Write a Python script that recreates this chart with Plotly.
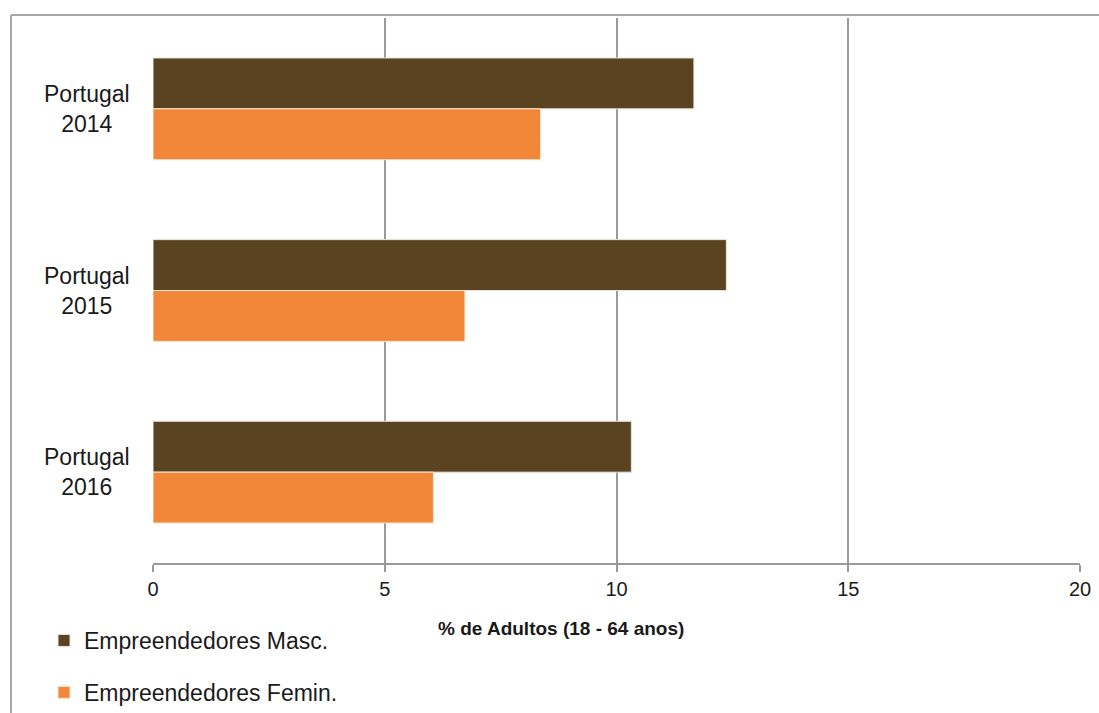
import plotly.graph_objects as go

categories = ["Portugal<br>2014", "Portugal<br>2015", "Portugal<br>2016"]
masc = [11.67, 12.37, 10.32]
femin = [8.36, 6.73, 6.05]
series_names = ["Empreendedores Masc.", "Empreendedores Femin."]
x_ticks = [0, 5, 10, 15, 20]
x_title = "% de Adultos (18 - 64 anos)"

W, H = 1099, 713
ml, mr, mt, mb = 153, 19, 18, 150
pw, ph = W - ml - mr, H - mt - mb

def px_x(x):
    return (x - ml) / pw

def px_y(y):
    return (H - mb - y) / ph

fig = go.Figure()
fig.add_trace(go.Bar(
    y=categories, x=masc, orientation="h", name=series_names[0],
    marker=dict(color="#5A4320", line=dict(color="#E8E2D8", width=1)),
    legendgroup="a",
))
fig.add_trace(go.Bar(
    y=categories, x=femin, orientation="h", name=series_names[1],
    marker=dict(color="#F2873A", line=dict(color="#FBE3D2", width=1)),
    legendgroup="b",
))

label_font = dict(family="Liberation Sans, Arial, sans-serif", size=23, color="#1a1a1a")
annotations = [dict(
    text="<b>" + x_title + "</b>", x=px_x(561), y=px_y(628),
    xref="paper", yref="paper", xanchor="center", yanchor="middle",
    showarrow=False,
    font=dict(family="Liberation Sans, Arial, sans-serif", size=19, color="#1a1a1a"),
)]
for c in categories:
    annotations.append(dict(
        text=c, x=px_x(87), y=c, xref="paper", yref="y",
        xanchor="center", yanchor="middle", align="center",
        showarrow=False, font=label_font,
    ))

fig.update_layout(
    template="none",
    width=W, height=H,
    margin=dict(l=ml, r=mr, t=mt, b=mb, autoexpand=False),
    paper_bgcolor="white", plot_bgcolor="white",
    barmode="group", bargap=0.44, bargroupgap=0.0,
    font=dict(family="Liberation Sans, Arial, sans-serif", size=22, color="#1a1a1a"),
    xaxis=dict(
        range=[0, 20], tickvals=x_ticks, ticktext=[str(t) for t in x_ticks],
        showgrid=True, gridcolor="#9A9A9A", gridwidth=2,
        showline=True, linecolor="#9A9A9A", linewidth=2,
        ticks="outside", ticklen=7, tickcolor="#9A9A9A", tickwidth=2,
        tickfont=dict(family="Liberation Sans, Arial, sans-serif", size=20, color="#1a1a1a"),
        zeroline=False, fixedrange=True, automargin=False,
    ),
    yaxis=dict(
        autorange="reversed", showgrid=False, showline=False, ticks="",
        showticklabels=False, automargin=False, zeroline=False,
    ),
    showlegend=True,
    legend=dict(
        x=px_x(44), y=px_y(619), xanchor="left", yanchor="top",
        orientation="v", traceorder="grouped", tracegroupgap=19,
        font=label_font,
        itemwidth=30, bgcolor="rgba(0,0,0,0)",
    ),
    annotations=annotations,
    shapes=[
        dict(type="line", xref="paper", yref="paper", x0=px_x(11), x1=px_x(1100),
             y0=px_y(15), y1=px_y(15), line=dict(color="#A8A8A8", width=2)),
        dict(type="line", xref="paper", yref="paper", x0=px_x(11), x1=px_x(11),
             y0=px_y(15), y1=px_y(714), line=dict(color="#A8A8A8", width=2)),
    ],
)

fig.write_html("out.html")
